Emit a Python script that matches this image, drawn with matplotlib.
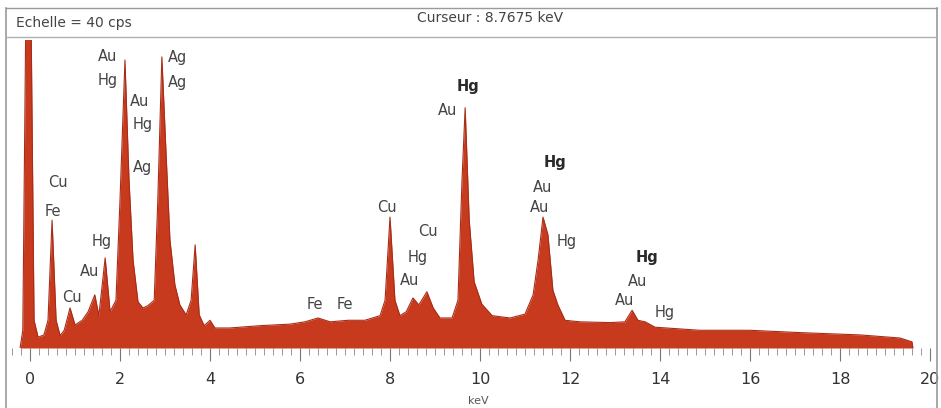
import matplotlib.pyplot as plt
from matplotlib.lines import Line2D
from matplotlib.ticker import MultipleLocator

# spectrum (keV, cps; full scale = 40 cps)
energy_kev = [-0.22, -0.16, -0.09, 0.02, 0.09, 0.18, 0.31, 0.40, 0.49, 0.58,
              0.67, 0.76, 0.89, 1.00, 1.16, 1.29, 1.44, 1.53, 1.67, 1.78,
              1.91, 2.00, 2.11, 2.20, 2.29, 2.40, 2.51, 2.62, 2.76, 2.84,
              2.93, 3.02, 3.11, 3.22, 3.33, 3.47, 3.58, 3.67, 3.76, 3.87,
              4.00, 4.11, 4.44, 5.11, 5.78, 6.11, 6.40, 6.67, 7.07, 7.44,
              7.78, 7.89, 8.00, 8.11, 8.22, 8.36, 8.51, 8.64, 8.82, 8.96,
              9.11, 9.38, 9.51, 9.60, 9.67, 9.76, 9.87, 10.04, 10.27, 10.67,
              11.00, 11.18, 11.29, 11.40, 11.51, 11.62, 11.73, 11.89, 12.22, 12.89,
              13.22, 13.38, 13.51, 13.67, 13.89, 14.89, 16.00, 17.11, 18.44, 19.33,
              19.60, 19.62]
counts_cps = [0.0, 2.3, 45.0, 45.0, 3.6, 1.4, 1.7, 3.6, 16.6, 3.6,
              1.6, 2.3, 5.2, 3.0, 3.6, 4.7, 6.9, 4.2, 11.7, 4.7,
              6.2, 19.2, 37.4, 21.8, 11.4, 6.0, 5.2, 5.5, 6.2, 19.2,
              37.8, 25.7, 14.0, 8.2, 5.6, 4.3, 6.2, 13.4, 4.3, 2.9,
              3.6, 2.6, 2.6, 2.9, 3.1, 3.4, 3.9, 3.4, 3.6, 3.6,
              4.2, 6.2, 17.0, 6.2, 4.2, 4.7, 6.5, 5.6, 7.3, 5.2,
              3.9, 3.9, 6.2, 21.8, 31.2, 16.6, 8.6, 5.7, 4.2, 3.9,
              4.4, 6.9, 11.4, 17.0, 14.7, 7.5, 5.6, 3.6, 3.4, 3.3,
              3.4, 4.9, 3.6, 3.4, 2.7, 2.3, 2.3, 2.0, 1.7, 1.3,
              0.8, 0.0]

# peak labels
label_text = ['Cu', 'Fe', 'Hg', 'Au', 'Cu', 'Au', 'Hg', 'Au', 'Hg', 'Ag',
              'Ag', 'Ag', 'Fe', 'Fe', 'Cu', 'Cu', 'Hg', 'Au', 'Hg', 'Au',
              'Hg', 'Au', 'Au', 'Hg', 'Hg', 'Au', 'Au', 'Hg']
label_kev = [0.62, 0.51, 1.60, 1.33, 0.93, 1.73, 1.73, 2.44, 2.51, 3.27,
             3.27, 2.51, 6.33, 7.00, 7.93, 8.84, 8.62, 8.44, 9.73, 9.27,
             11.67, 11.38, 11.33, 11.93, 13.71, 13.51, 13.22, 14.11]
label_cps = [21.5, 17.7, 13.8, 9.9, 6.5, 37.8, 34.7, 32.0, 29.0, 37.7,
             34.5, 23.4, 5.6, 5.6, 18.3, 15.1, 11.8, 8.8, 33.9, 30.9,
             24.1, 20.9, 18.3, 13.8, 11.8, 8.6, 6.2, 4.6]
label_bold = [False] * 18 + [True, False, True] + [False] * 3 + [True] + [False] * 3

xticks = list(range(0, 21, 2))

fig = plt.figure(figsize=(9.41, 4.08), dpi=100)
W, H = 941, 408

# axes: x 0 keV at px 30, 45 px per keV; baseline at py 348, top at py 40
ax = fig.add_axes([6 / W, (H - 348) / H, (937 - 6) / W, (348 - 40) / H])
ax.set_xlim((6 - 30) / 45, (937 - 30) / 45)
ax.set_ylim(0, 40)

ax.fill_between(energy_kev, counts_cps, 0, color='#c83a1d', lw=0, zorder=2)
ax.plot(energy_kev, counts_cps, color='#a82c18', lw=0.8, zorder=3)

for t, xk, yc, b in zip(label_text, label_kev, label_cps, label_bold):
    ax.text(xk, yc, t, ha='center', va='center', fontsize=10.5,
            color='#2a2a2a' if b else '#444444',
            fontweight='bold' if b else 'normal', zorder=4)

for s in ax.spines.values():
    s.set_visible(False)
ax.set_yticks([])
ax.set_xticks(xticks)
ax.set_xticklabels([str(v) for v in xticks])
ax.xaxis.set_minor_locator(MultipleLocator(0.2))
ax.tick_params(axis='x', which='major', length=9, width=0.8, color='#777777',
               labelsize=11.5, labelcolor='#333333', pad=8)
ax.tick_params(axis='x', which='minor', length=5, width=0.6, color='#888888')

fig.text(478 / W, 1 - 401 / H, 'keV', ha='center', va='center', fontsize=8, color='#555555')

# header and frame
frame = '#9a9a9a'
fig.add_artist(Line2D([6 / W, 6 / W], [0, 1 - 8 / H], color=frame, lw=1.2, transform=fig.transFigure))
fig.add_artist(Line2D([937 / W, 937 / W], [0, 1 - 8 / H], color=frame, lw=1.2, transform=fig.transFigure))
fig.add_artist(Line2D([6 / W, 937 / W], [1 - 8 / H, 1 - 8 / H], color=frame, lw=1.0, transform=fig.transFigure))
fig.add_artist(Line2D([6 / W, 937 / W], [1 - 37 / H, 1 - 37 / H], color='#b0b0b0', lw=1.0, transform=fig.transFigure))
fig.text(16 / W, 1 - 23 / H, 'Echelle = 40 cps', ha='left', va='center', fontsize=10, color='#444444')
fig.text(490 / W, 1 - 18 / H, 'Curseur : 8.7675 keV', ha='center', va='center', fontsize=10, color='#444444')

plt.savefig('out.png', dpi=100)
